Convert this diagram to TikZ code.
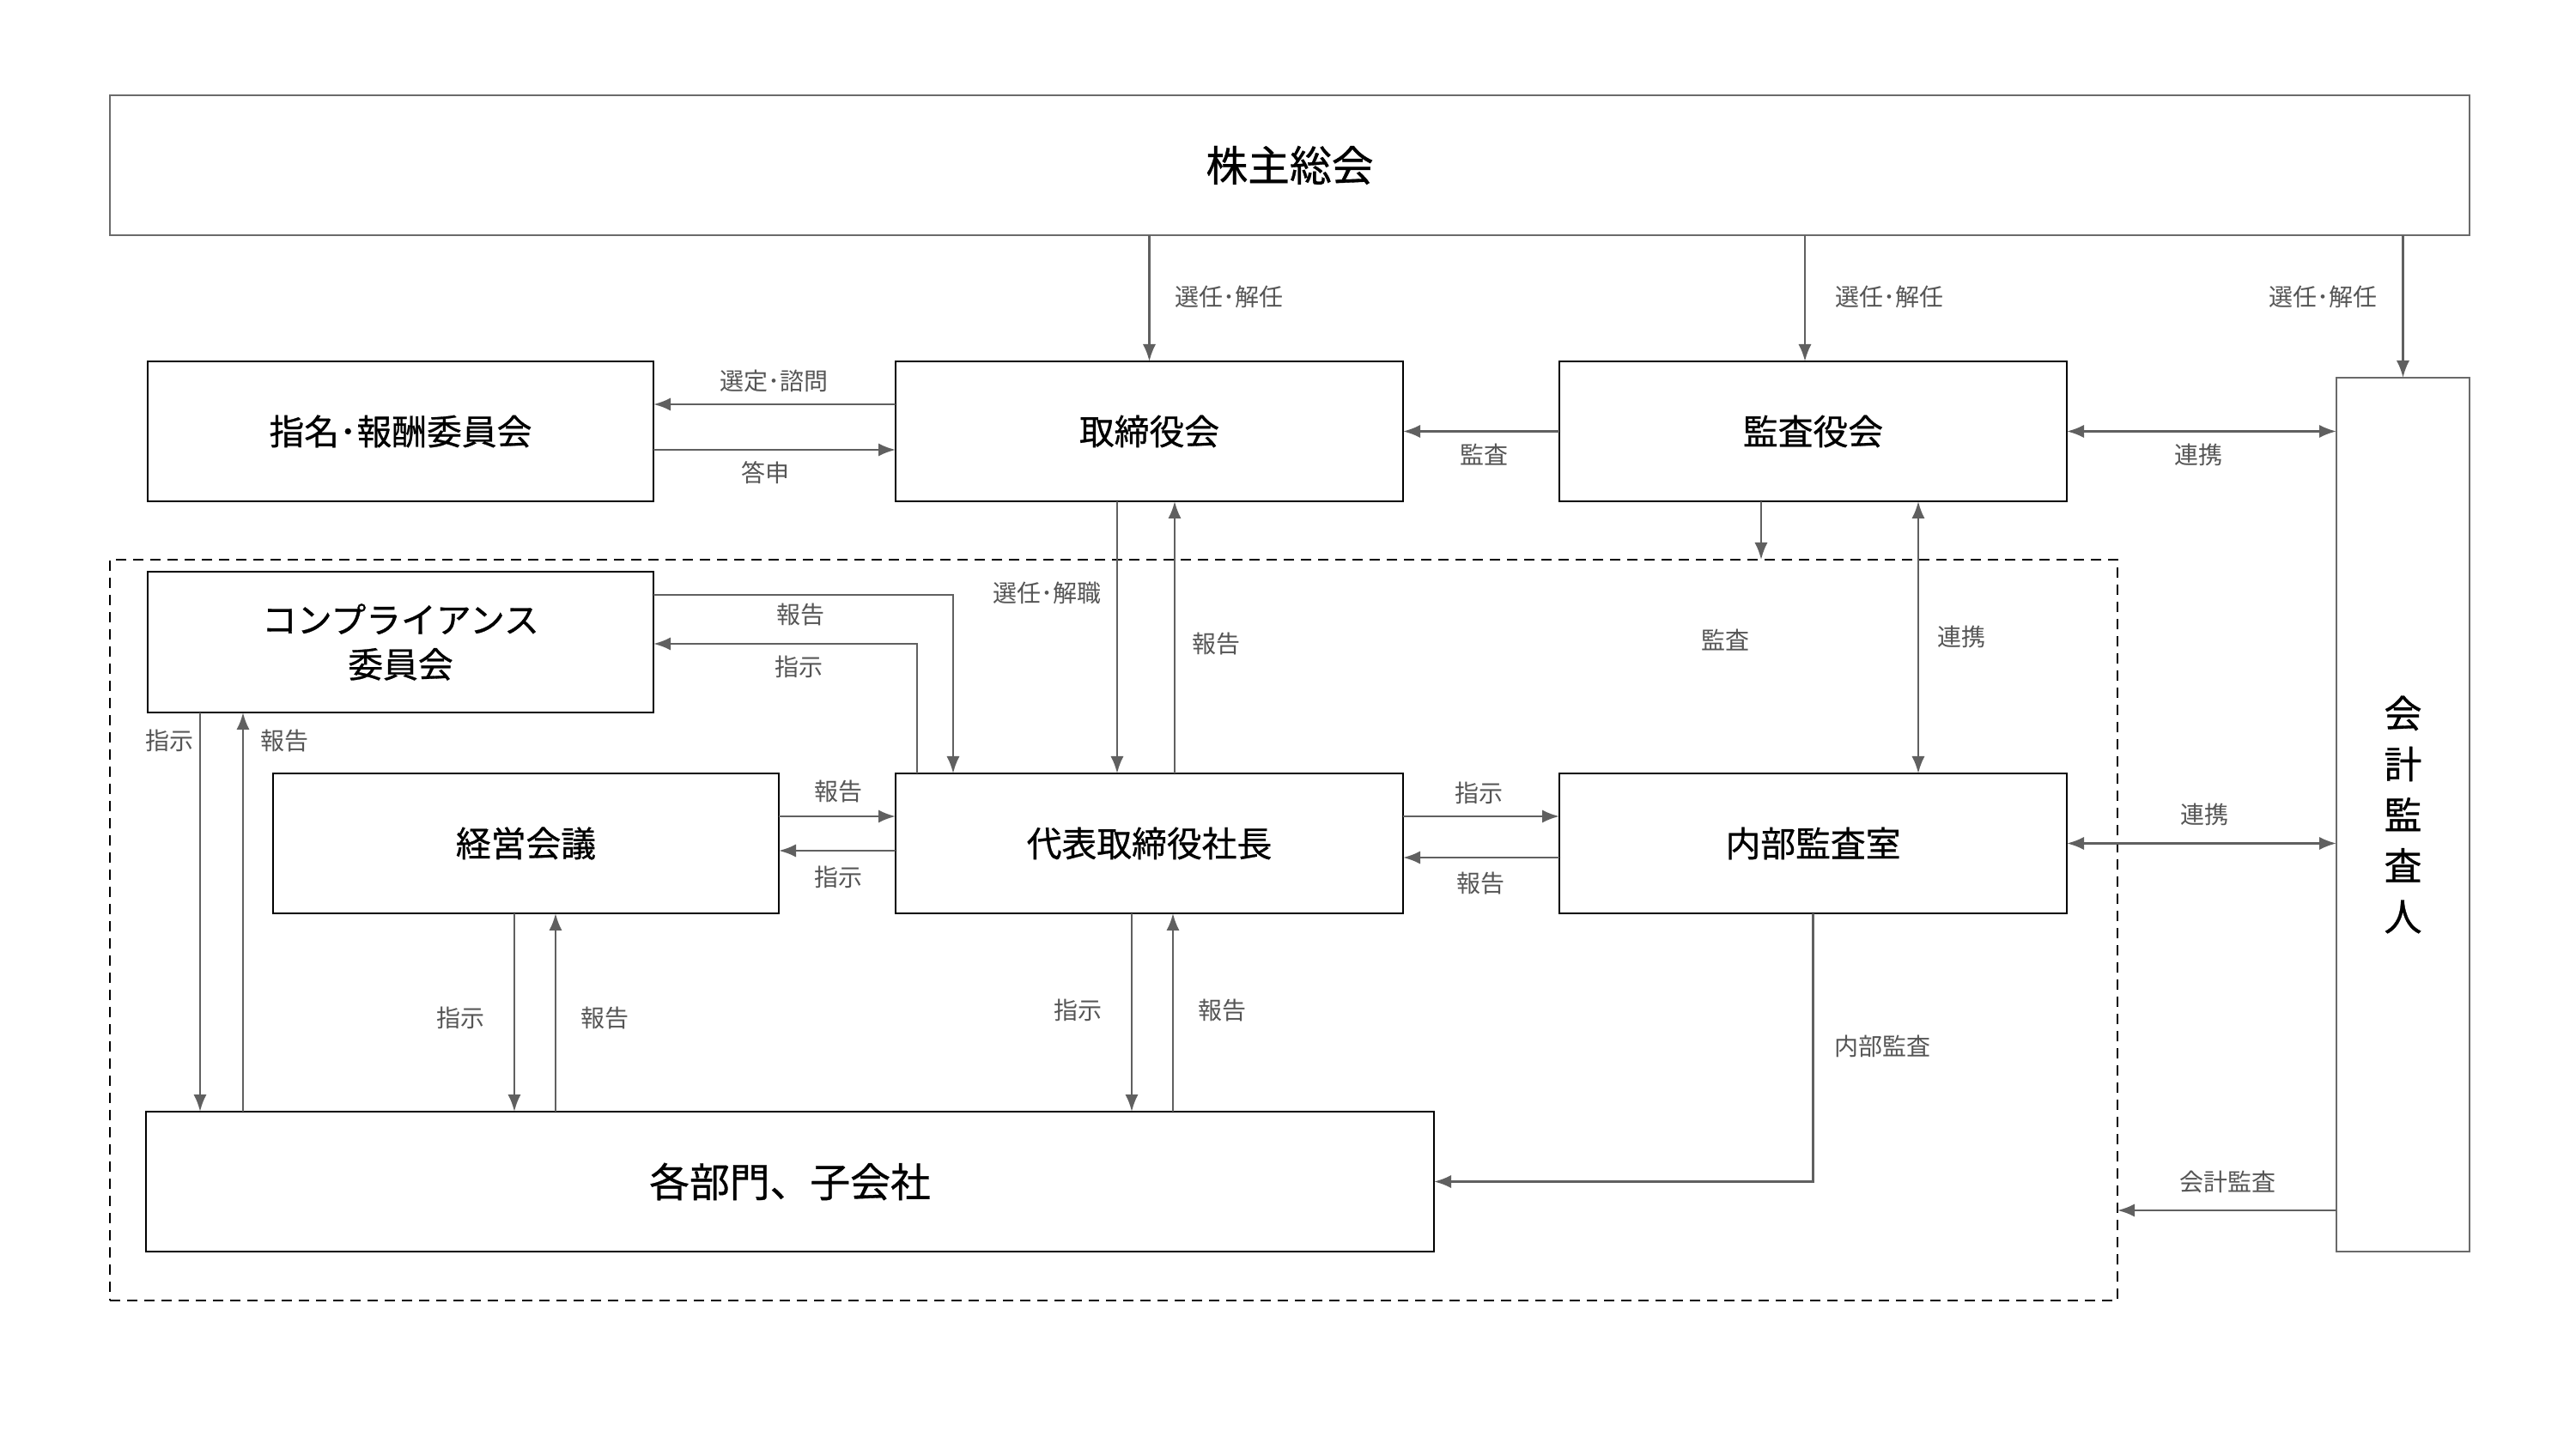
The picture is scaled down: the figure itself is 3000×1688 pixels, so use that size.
\documentclass[tikz,border=0pt]{standalone}
\usepackage{fontspec}
\newfontfamily\cjk{Noto Sans CJK JP}
\newfontfamily\cjkm{Noto Sans CJK JP}[FakeBold=0.7]
\usetikzlibrary{arrows.meta,calc}
\definecolor{ln}{HTML}{606060}
\definecolor{lb}{HTML}{555555}
\definecolor{gb}{HTML}{6A6A6A}
\begin{document}
\begin{tikzpicture}[x=0.25pt,y=-0.25pt,
 box/.style={draw=black,line width=0.7pt,fill=white,inner sep=0pt,outer sep=0pt,align=center,font=\cjkm\fontsize{10.2}{13}\selectfont,text=black},
 gbox/.style={box,draw=gb,line width=0.6pt},
 arr/.style={draw=ln,line width=0.65pt,-{Latex[length=5pt,width=3.8pt]}},
 darr/.style={draw=ln,line width=0.65pt,{Latex[length=5pt,width=3.8pt]}-{Latex[length=5pt,width=3.8pt]}},
 lbl/.style={font=\cjk\fontsize{7}{8}\selectfont,text=lb,inner sep=1pt},
 grpbox/.style={draw=black,line width=0.6pt,dash pattern=on 3pt off 2pt,inner sep=0pt,outer sep=0pt},
]
\useasboundingbox (0,0) rectangle (3000,1688);
\fill[white] (0,0) rectangle (3000,1688);

% group (dashed)
\node[grpbox,minimum width=584.5pt,minimum height=215.75pt] (grp) at (1297,1083.5) {};

% nodes
\node[gbox,minimum width=687pt,minimum height=40.75pt,font=\cjkm\fontsize{12.2}{14}\selectfont] (sh) at (1502,192.5) {株主総会};
\node[box,minimum width=147.25pt,minimum height=40.75pt] (nom) at (466.5,502.5) {指名･報酬委員会};
\node[box,minimum width=147.75pt,minimum height=40.75pt] (bod) at (1338.5,502.5) {取締役会};
\node[box,minimum width=147.75pt,minimum height=40.75pt] (kan) at (2111.5,502.5) {監査役会};
\node[gbox,minimum width=38.75pt,minimum height=254.5pt,font=\cjkm\fontsize{11}{14.8}\selectfont] (audit) at (2798.5,949) {会\\計\\監\\査\\人};
\node[box,minimum width=147.25pt,minimum height=41pt] (comp) at (466.5,748) {コンプライアンス\\委員会};
\node[box,minimum width=147.25pt,minimum height=40.75pt] (keiei) at (612.5,982.5) {経営会議};
\node[box,minimum width=147.75pt,minimum height=40.75pt] (ceo) at (1338.5,982.5) {代表取締役社長};
\node[box,minimum width=147.75pt,minimum height=40.75pt] (naibu) at (2111.5,982.5) {内部監査室};
\node[box,minimum width=375pt,minimum height=40.75pt,font=\cjkm\fontsize{11.7}{14}\selectfont] (dept) at (920,1376.5) {各部門、子会社};

% helper coordinates
\coordinate (k1) at ($(kan.north)+(-9.5,0)$);
\coordinate (a1) at ($(bod.west)+(0,-31.5)$);
\coordinate (a2) at ($(nom.east)+(0,21.5)$);
\coordinate (a3) at ($(kan.south)+(-60.5,0)$);
\coordinate (a4) at ($(kan.south)+(122.5,0)$);
\coordinate (a5) at ($(bod.south)+(-37.5,0)$);
\coordinate (a6) at ($(ceo.north)+(29.5,0)$);
\coordinate (a7) at ($(comp.east)+(0,-55)$);
\coordinate (a8) at ($(ceo.north)+(-228.5,0)$);
\coordinate (a9) at ($(ceo.north)+(-270.5,0)$);
\coordinate (a10) at ($(comp.east)+(0,2)$);
\coordinate (a11) at ($(keiei.east)+(0,-31.5)$);
\coordinate (a12) at ($(ceo.west)+(0,8.5)$);
\coordinate (a13) at ($(ceo.east)+(0,-31.5)$);
\coordinate (a14) at ($(naibu.west)+(0,16.5)$);
\coordinate (a15) at ($(comp.south)+(-233.5,0)$);
\coordinate (a16) at ($(comp.south)+(-183.5,0)$);
\coordinate (a17) at ($(keiei.south)+(-13.5,0)$);
\coordinate (a18) at ($(keiei.south)+(34.5,0)$);
\coordinate (a19) at ($(ceo.south)+(-20.5,0)$);
\coordinate (a20) at ($(ceo.south)+(27.5,0)$);
\coordinate (a21) at ($(audit.south west)+(0,-48)$);

% connectors
\draw[arr] (sh.south -| bod.north) -- (bod.north);
\draw[arr] (k1 |- sh.south) -- (k1);
\draw[arr] (sh.south -| audit.north) -- (audit.north);
\draw[arr] (a1) -- (a1 -| nom.east);
\draw[arr] (a2) -- (a2 -| bod.west);
\draw[arr] (kan.west) -- (bod.east);
\draw[darr] (kan.east) -- (kan.east -| audit.west);
\draw[arr] (a3) -- (a3 |- grp.north);
\draw[darr] (a4) -- (a4 |- naibu.north);
\draw[arr] (a5) -- (a5 |- ceo.north);
\draw[arr] (a6) -- (a6 |- bod.south);
\draw[arr] (a7) -- (a7 -| a8) -- (a8);
\draw[arr] (a9) -- (a9 |- a10) -- (a10);
\draw[arr] (a11) -- (a11 -| ceo.west);
\draw[arr] (a12) -- (a12 -| keiei.east);
\draw[arr] (a13) -- (a13 -| naibu.west);
\draw[arr] (a14) -- (a14 -| ceo.east);
\draw[darr] (naibu.east) -- (naibu.east -| audit.west);
\draw[arr] (a15) -- (a15 |- dept.north);
\draw[arr] (a16 |- dept.north) -- (a16);
\draw[arr] (a17) -- (a17 |- dept.north);
\draw[arr] (a18 |- dept.north) -- (a18);
\draw[arr] (a19) -- (a19 |- dept.north);
\draw[arr] (a20 |- dept.north) -- (a20);
\draw[arr] (naibu.south) -- (naibu.south |- dept.east) -- (dept.east);
\draw[arr] (a21) -- (a21 -| grp.east);

% labels
\node[lbl] (l1) at (1431,346) {選任･解任};
\node[lbl] (l2) at (2200,346) {選任･解任};
\node[lbl] (l3) at (2705,346) {選任･解任};
\node[lbl] (l4) at (901,444) {選定･諮問};
\node[lbl] (l5) at (891,551) {答申};
\node[lbl] (l6) at (1728,530) {監査};
\node[lbl] (l7) at (2560,530) {連携};
\node[lbl] (l8) at (2009,746) {監査};
\node[lbl] (l9) at (2284,742) {連携};
\node[lbl] (l10) at (1219,691) {選任･解職};
\node[lbl] (l11) at (1416,750) {報告};
\node[lbl] (l12) at (932,716) {報告};
\node[lbl] (l13) at (930,777) {指示};
\node[lbl] (l14) at (976,922) {報告};
\node[lbl] (l15) at (976,1022) {指示};
\node[lbl] (l16) at (1722,924) {指示};
\node[lbl] (l17) at (1724,1029) {報告};
\node[lbl] (l18) at (2567,949) {連携};
\node[lbl] (l19) at (197,863) {指示};
\node[lbl] (l20) at (331,863) {報告};
\node[lbl] (l21) at (536,1186) {指示};
\node[lbl] (l22) at (704,1186) {報告};
\node[lbl] (l23) at (1255,1177) {指示};
\node[lbl] (l24) at (1423,1177) {報告};
\node[lbl] (l25) at (2192,1219) {内部監査};
\node[lbl] (l26) at (2594,1377) {会計監査};
\end{tikzpicture}
\end{document}
